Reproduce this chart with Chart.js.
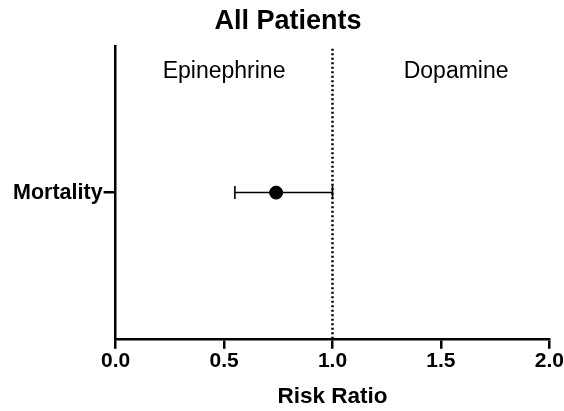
<!DOCTYPE html>
<html>
<head>
<meta charset="utf-8">
<script src="https://cdn.jsdelivr.net/npm/chart.js@4.4.0/dist/chart.umd.min.js"></script>
<style>
  html, body { margin: 0; padding: 0; background: #fff; }
  #wrap { width: 564px; height: 411px; }
</style>
</head>
<body>
<div id="wrap"><canvas id="forest"></canvas></div>
<script>
// data
const outcomes = ['Mortality'];
const riskRatio = [0.74];
const ciLow = [0.55];
const ciHigh = [1.0];
const xTicks = [0.0, 0.5, 1.0, 1.5, 2.0];
const sideLabels = [
  { text: 'Epinephrine', x: 0.5 },
  { text: 'Dopamine', x: 1.57 }
];
const refLine = 1.0;

const FONT = "'Liberation Sans', Arial, sans-serif";
const rowY = outcomes.map((o, i) => i + 1);

// labels above the plot, positioned with the x scale
const sideLabelPlugin = {
  id: 'sideLabels',
  afterDatasetsDraw(chart) {
    const { ctx, scales } = chart;
    ctx.save();
    ctx.fillStyle = '#000';
    ctx.font = '23px ' + FONT;
    ctx.textAlign = 'center';
    ctx.textBaseline = 'middle';
    sideLabels.forEach(l => {
      ctx.fillText(l.text, scales.x.getPixelForValue(l.x), chart.chartArea.top + 25);
    });
    ctx.restore();
  }
};

const ciData = [];
outcomes.forEach((o, i) => {
  ciData.push({ x: ciLow[i], y: rowY[i] });
  ciData.push({ x: ciHigh[i], y: rowY[i] });
});

new Chart(document.getElementById('forest'), {
  type: 'scatter',
  data: {
    datasets: [
      {
        label: 'ref',
        data: [{ x: refLine, y: 0 }, { x: refLine, y: 2 }],
        showLine: true,
        borderColor: '#000',
        borderWidth: 2.5,
        borderDash: [2, 2.5],
        pointRadius: 0
      },
      {
        label: 'ci',
        data: ciData,
        showLine: true,
        borderColor: '#000',
        borderWidth: 1.5,
        pointStyle: 'line',
        rotation: 90,
        pointRadius: 6.5,
        pointBorderWidth: 1.6,
        pointBorderColor: '#000'
      },
      {
        label: 'RR',
        data: outcomes.map((o, i) => ({ x: riskRatio[i], y: rowY[i] })),
        pointRadius: 6.5,
        backgroundColor: '#000',
        borderColor: '#000'
      }
    ]
  },
  options: {
    responsive: true,
    maintainAspectRatio: false,
    animation: false,
    layout: { padding: { top: 0, right: 0, left: 12, bottom: 0 } },
    plugins: {
      legend: { display: false },
      tooltip: { enabled: false },
      title: {
        display: true,
        text: 'All Patients',
        color: '#000',
        font: { family: FONT, size: 27, weight: 'bold' },
        padding: { top: 5, bottom: 9 }
      }
    },
    scales: {
      x: {
        type: 'linear',
        min: 0,
        max: 2,
        afterBuildTicks: s => { s.ticks = xTicks.map(v => ({ value: v })); },
        ticks: {
          color: '#000',
          font: { family: FONT, size: 21, weight: 'bold' },
          padding: 0,
          maxRotation: 0,
          callback: v => Number(v).toFixed(1)
        },
        grid: { drawOnChartArea: false, drawTicks: true, tickLength: 10, color: '#000', lineWidth: 2.5 },
        border: { color: '#000', width: 2.5 },
        title: {
          display: true,
          text: 'Risk Ratio',
          color: '#000',
          font: { family: FONT, size: 22.5, weight: 'bold' },
          padding: { top: 9, bottom: 1 }
        }
      },
      y: {
        type: 'linear',
        min: 0,
        max: 2,
        afterBuildTicks: s => { s.ticks = rowY.map(v => ({ value: v })); },
        ticks: {
          color: '#000',
          font: { family: FONT, size: 21.5, weight: 'bold' },
          padding: 1,
          callback: (v) => outcomes[rowY.indexOf(v)] || ''
        },
        grid: { drawOnChartArea: false, drawTicks: true, tickLength: 12, color: '#000', lineWidth: 2.5 },
        border: { color: '#000', width: 2.5 }
      }
    }
  },
  plugins: [sideLabelPlugin]
});
</script>
</body>
</html>
